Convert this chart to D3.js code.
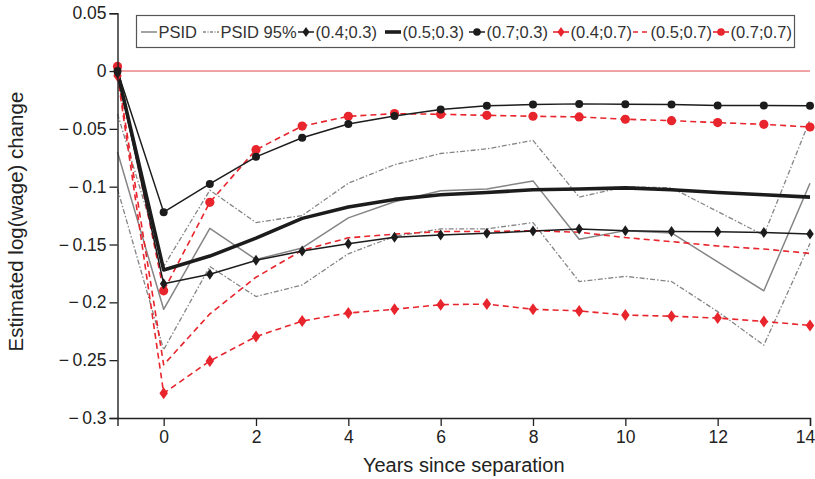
<!DOCTYPE html>
<html><head><meta charset="utf-8">
<script src="https://cdn.jsdelivr.net/npm/d3@7/dist/d3.min.js"></script>
<style>
body{margin:0;background:#fff;}
svg{display:block;font-family:"Liberation Sans",Arial,Helvetica,sans-serif;}
</style></head>
<body><svg id="c" width="815" height="479"></svg>
<script>
// ---- data ----
const years = [-1,0,1,2,3,4,5,6,7,8,9,10,11,12,13,14];
const psid      = [-0.070,-0.206,-0.136,-0.163,-0.153,-0.127,-0.113,-0.1035,-0.102,-0.095,-0.1455,-0.138,-0.140,-0.165,-0.190,-0.097];
const psidUpper = [-0.037,-0.169,-0.103,-0.131,-0.125,-0.097,-0.081,-0.0713,-0.0673,-0.060,-0.109,-0.100,-0.101,-0.1215,-0.142,-0.042];
const psidLower = [-0.102,-0.241,-0.169,-0.195,-0.185,-0.158,-0.143,-0.1365,-0.1365,-0.131,-0.182,-0.1775,-0.182,-0.208,-0.237,-0.149];
const m0403 = [-0.002,-0.184,-0.1757,-0.1637,-0.1557,-0.1494,-0.1438,-0.1417,-0.1403,-0.1383,-0.1365,-0.138,-0.1388,-0.139,-0.1397,-0.1409];
const m0503 = [-0.001,-0.172,-0.160,-0.1445,-0.1274,-0.1175,-0.111,-0.107,-0.105,-0.1026,-0.102,-0.101,-0.1026,-0.105,-0.107,-0.109];
const m0703 = [0.000,-0.122,-0.0976,-0.0742,-0.0577,-0.0458,-0.0389,-0.0333,-0.0301,-0.029,-0.0284,-0.0287,-0.029,-0.0299,-0.0299,-0.0301];
const m0407 = [-0.004,-0.2786,-0.2507,-0.2296,-0.2162,-0.2092,-0.206,-0.202,-0.2015,-0.206,-0.2074,-0.211,-0.212,-0.2136,-0.2165,-0.220];
const m0507 = [-0.002,-0.254,-0.210,-0.1783,-0.155,-0.1442,-0.141,-0.1388,-0.1388,-0.138,-0.1394,-0.144,-0.1475,-0.1513,-0.1539,-0.1577];
const m0707 = [0.004,-0.190,-0.1135,-0.068,-0.0476,-0.0392,-0.0368,-0.0374,-0.0383,-0.0391,-0.0397,-0.0417,-0.0429,-0.0446,-0.0461,-0.0484];
const xTicks = [0,2,4,6,8,10,12,14];
const yTicks = [0.05,0,-0.05,-0.1,-0.15,-0.2,-0.25,-0.3];
const yTickLabels = ["0.05","0","\u2212\u20090.05","\u2212\u20090.1","\u2212\u20090.15","\u2212\u20090.2","\u2212\u20090.25","\u2212\u20090.3"];
const legendLabels = ["PSID","PSID 95%","(0.4;0.3)","(0.5;0.3)","(0.7;0.3)","(0.4;0.7)","(0.5;0.7)","(0.7;0.7)"];

// ---- styles ----
const RED = "#e8242c", BLACK = "#1c1c1c", GRAY = "#858585";
const series = [
  {values: psidUpper, color: GRAY, width: 1.3, dash: "5,2,1.5,2", marker: null},
  {values: psidLower, color: GRAY, width: 1.3, dash: "5,2,1.5,2", marker: null},
  {values: psid, color: GRAY, width: 1.5, dash: null, marker: null},
  {values: m0507, color: RED, width: 1.6, dash: "6,4", marker: null},
  {values: m0407, color: RED, width: 1.6, dash: "6,4", marker: "diamond"},
  {values: m0707, color: RED, width: 1.6, dash: "6,4", marker: "circle"},
  {values: m0503, color: BLACK, width: 3.6, dash: null, marker: null},
  {values: m0403, color: BLACK, width: 1.5, dash: null, marker: "diamond"},
  {values: m0703, color: BLACK, width: 1.5, dash: null, marker: "circle"}
];
const legendStyles = [
  {color: GRAY, width: 1.5, dash: null, marker: null},
  {color: GRAY, width: 1.3, dash: "3,1.5,1,1.5", marker: null},
  {color: BLACK, width: 1.5, dash: null, marker: "diamond"},
  {color: BLACK, width: 3.6, dash: null, marker: null},
  {color: BLACK, width: 1.5, dash: null, marker: "circle"},
  {color: RED, width: 1.6, dash: null, marker: "diamond"},
  {color: RED, width: 1.6, dash: "5,4", marker: null},
  {color: RED, width: 1.6, dash: null, marker: "circle"}
];

const svg = d3.select("#c");
const x = d3.scaleLinear().domain([-1,14]).range([117.5,810]);
const y = d3.scaleLinear().domain([-0.3,0.05]).range([418,13.2]);

// zero line
svg.append("line").attr("x1",x(-1)).attr("x2",x(14)).attr("y1",y(0)).attr("y2",y(0))
  .attr("stroke","#e04848").attr("stroke-width",1);

const line = d3.line().x((d,i)=>x(years[i])).y(d=>y(d));
function diamondPath(cx,cy,w,h){return `M${cx},${cy-h/2}L${cx+w/2},${cy}L${cx},${cy+h/2}L${cx-w/2},${cy}Z`;}

series.forEach(s=>{
  svg.append("path").datum(s.values).attr("d",line).attr("fill","none")
    .attr("stroke",s.color).attr("stroke-width",s.width)
    .attr("stroke-dasharray",s.dash).attr("stroke-linejoin","round");
});
series.forEach(s=>{
  if(!s.marker) return;
  const g = svg.append("g");
  s.values.forEach((v,i)=>{
    if(s.marker==="circle"){
      g.append("circle").attr("cx",x(years[i])).attr("cy",y(v))
        .attr("r", s.color===RED?4.6:4).attr("fill",s.color);
    } else {
      const big = s.color===RED;
      g.append("path").attr("d",diamondPath(x(years[i]),y(v),big?8.5:7.5,big?12:11)).attr("fill",s.color);
    }
  });
});

// axes
const yAxis = d3.axisLeft(y).tickValues(yTicks).tickFormat((d,i)=>yTickLabels[i]).tickSizeOuter(0).tickSize(8).tickPadding(3);
const ya = svg.append("g").attr("transform",`translate(${x(-1)},0)`).call(yAxis);
const xAxis = d3.axisBottom(x).tickValues(xTicks).tickFormat(d3.format("d")).tickSizeOuter(0).tickSize(8).tickPadding(5);
const xa = svg.append("g").attr("transform",`translate(0,${y(-0.3)})`).call(xAxis);
[ya,xa].forEach(a=>{
  a.selectAll("path.domain").attr("stroke","#222").attr("stroke-width",1.4);
  a.selectAll(".tick line").attr("stroke","#222").attr("stroke-width",1.3);
  a.selectAll("text").attr("fill","#222").style("font-size","17.5px").style("font-family",'"Liberation Sans",Arial,sans-serif');
});
xa.selectAll(".tick text").filter(d=>d===14).attr("dx",-5);

// axis titles
svg.append("text").attr("transform",`translate(23,${(y(0.05)+y(-0.3))/2+6}) rotate(-90)`)
  .attr("text-anchor","middle").style("font-size","20.5px").attr("fill","#222")
  .text("Estimated log(wage) change");
svg.append("text").attr("x",(x(-1)+x(14))/2).attr("y",472)
  .attr("text-anchor","middle").style("font-size","20px").attr("fill","#222")
  .text("Years since separation");

// legend
const legendX = [141,203,298,385,469,553,633,713];
svg.append("rect").attr("x",136.5).attr("y",15.5).attr("width",658).attr("height",32)
  .attr("fill","#fff").attr("stroke","#555").attr("stroke-width",1.2);
const ly = 32;
legendLabels.forEach((lab,i)=>{
  const st = legendStyles[i], x0 = legendX[i], len = 16;
  svg.append("line").attr("x1",x0).attr("x2",x0+len).attr("y1",ly).attr("y2",ly)
    .attr("stroke",st.color).attr("stroke-width",st.width).attr("stroke-dasharray",st.dash);
  if(st.marker==="circle"){
    svg.append("circle").attr("cx",x0+len/2).attr("cy",ly).attr("r",3.8).attr("fill",st.color);
  } else if(st.marker==="diamond"){
    svg.append("path").attr("d",diamondPath(x0+len/2,ly,7,10)).attr("fill",st.color);
  }
  svg.append("text").attr("x",x0+len+1.5).attr("y",ly+6).style("font-size","16.5px").attr("fill","#333").text(lab);
});
</script></body></html>
